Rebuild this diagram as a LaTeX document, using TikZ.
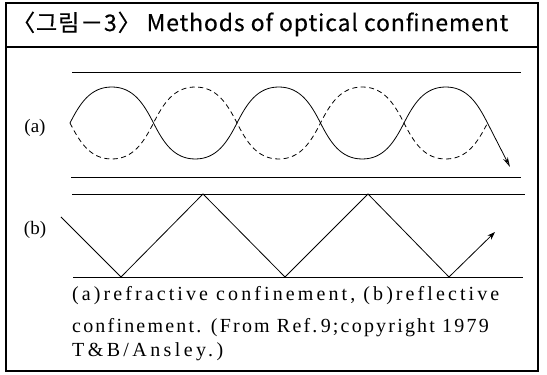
\documentclass[tikz,border=0pt]{standalone}
\usepackage{fontspec}
\setmainfont{Liberation Serif}
\newfontfamily\krfont[LetterSpace=3.8,FakeBold=0.4]{Noto Sans CJK KR}
\usetikzlibrary{arrows.meta}
\begin{document}
\begin{tikzpicture}[x=1pt,y=1pt,
  guide/.style={line width=0.8pt},
  frameline/.style={line width=1.1pt},
  wave/.style={line width=0.8pt},
  dashwave/.style={line width=0.8pt, dash pattern=on 5pt off 3.5pt},
  arrA/.style={-{Stealth[length=10pt,width=5pt,fill=gray!60]}},
  arrB/.style={-{Stealth[length=8pt,width=5.5pt]}},
  lbl/.style={font=\fontsize{19}{20}\selectfont, inner sep=0pt},
  captxt/.style={anchor=base west, inner sep=0pt, font=\fontsize{20}{22}\selectfont},
]
\useasboundingbox (0,0) rectangle (547,375);
% frame
\draw[frameline] (6,4) rectangle (538,372);
\draw[frameline] (6,328) -- (538,328);
\node[anchor=west, inner sep=0pt, font=\krfont\fontsize{23}{25}\selectfont] (title) at (12,351) {〈그림－3〉 Methods of optical confinement};
% (a) guides
\coordinate (a1) at (72,303); \coordinate (a2) at (521,303);
\coordinate (a3) at (71,198); \coordinate (a4) at (521,198);
\draw[guide] (a1) -- (a2);
\draw[guide] (a3) -- (a4);
\node[lbl] (la) at (35,247) {(a)};
% solid wave
\coordinate (s0) at (70,252);
\coordinate (tipA) at (510,208);
\draw[wave,arrA] (s0) to[out=63,in=180] (111.75,288) to[out=0,in=117] (153.5,252)
  to[out=-63,in=180] (195.25,216) to[out=0,in=-117] (237,252)
  to[out=63,in=180] (278.75,288) to[out=0,in=117] (320.5,252)
  to[out=-63,in=180] (362.25,216) to[out=0,in=-117] (404,252)
  to[out=63,in=180] (445.75,288) to[out=0,in=117] (487.5,252) -- (tipA);
% dashed wave
\draw[dashwave] (s0) to[out=-63,in=180] (111.75,216) to[out=0,in=-117] (153.5,252)
  to[out=63,in=180] (195.25,288) to[out=0,in=117] (237,252)
  to[out=-63,in=180] (278.75,216) to[out=0,in=-117] (320.5,252)
  to[out=63,in=180] (362.25,288) to[out=0,in=117] (404,252)
  to[out=-63,in=180] (445.75,216) to[out=0,in=-117] (487.5,252);
% (b) guides
\coordinate (b1) at (72,181); \coordinate (b2) at (525,181);
\coordinate (b3) at (73,98); \coordinate (b4) at (523,98);
\draw[guide] (b1) -- (b2);
\draw[guide] (b3) -- (b4);
\node[lbl] (lb) at (35,145) {(b)};
% zigzag
\coordinate (z0) at (61,158);
\coordinate (z1) at (121,98);
\coordinate (z2) at (203,181);
\coordinate (z3) at (285,98);
\coordinate (z4) at (368,181);
\coordinate (z5) at (449,98);
\coordinate (tipB) at (495,143);
\draw[wave,arrB] (z0) -- (z1) -- (z2) -- (z3) -- (z4) -- (z5) -- (tipB);
% caption
\node[captxt] (c1) at (72,74) {\addfontfeatures{LetterSpace=15.5}(a)\hspace{3pt}refractive confinement, (b)\hspace{3pt}reflective};
\node[captxt] (c2) at (72,42) {\addfontfeatures{LetterSpace=11}confinement. (From Ref.\,9;copyright 1979};
\node[captxt] (c3) at (72,18) {\addfontfeatures{LetterSpace=17}T\&B/Ansley.)};
\end{tikzpicture}
\end{document}
